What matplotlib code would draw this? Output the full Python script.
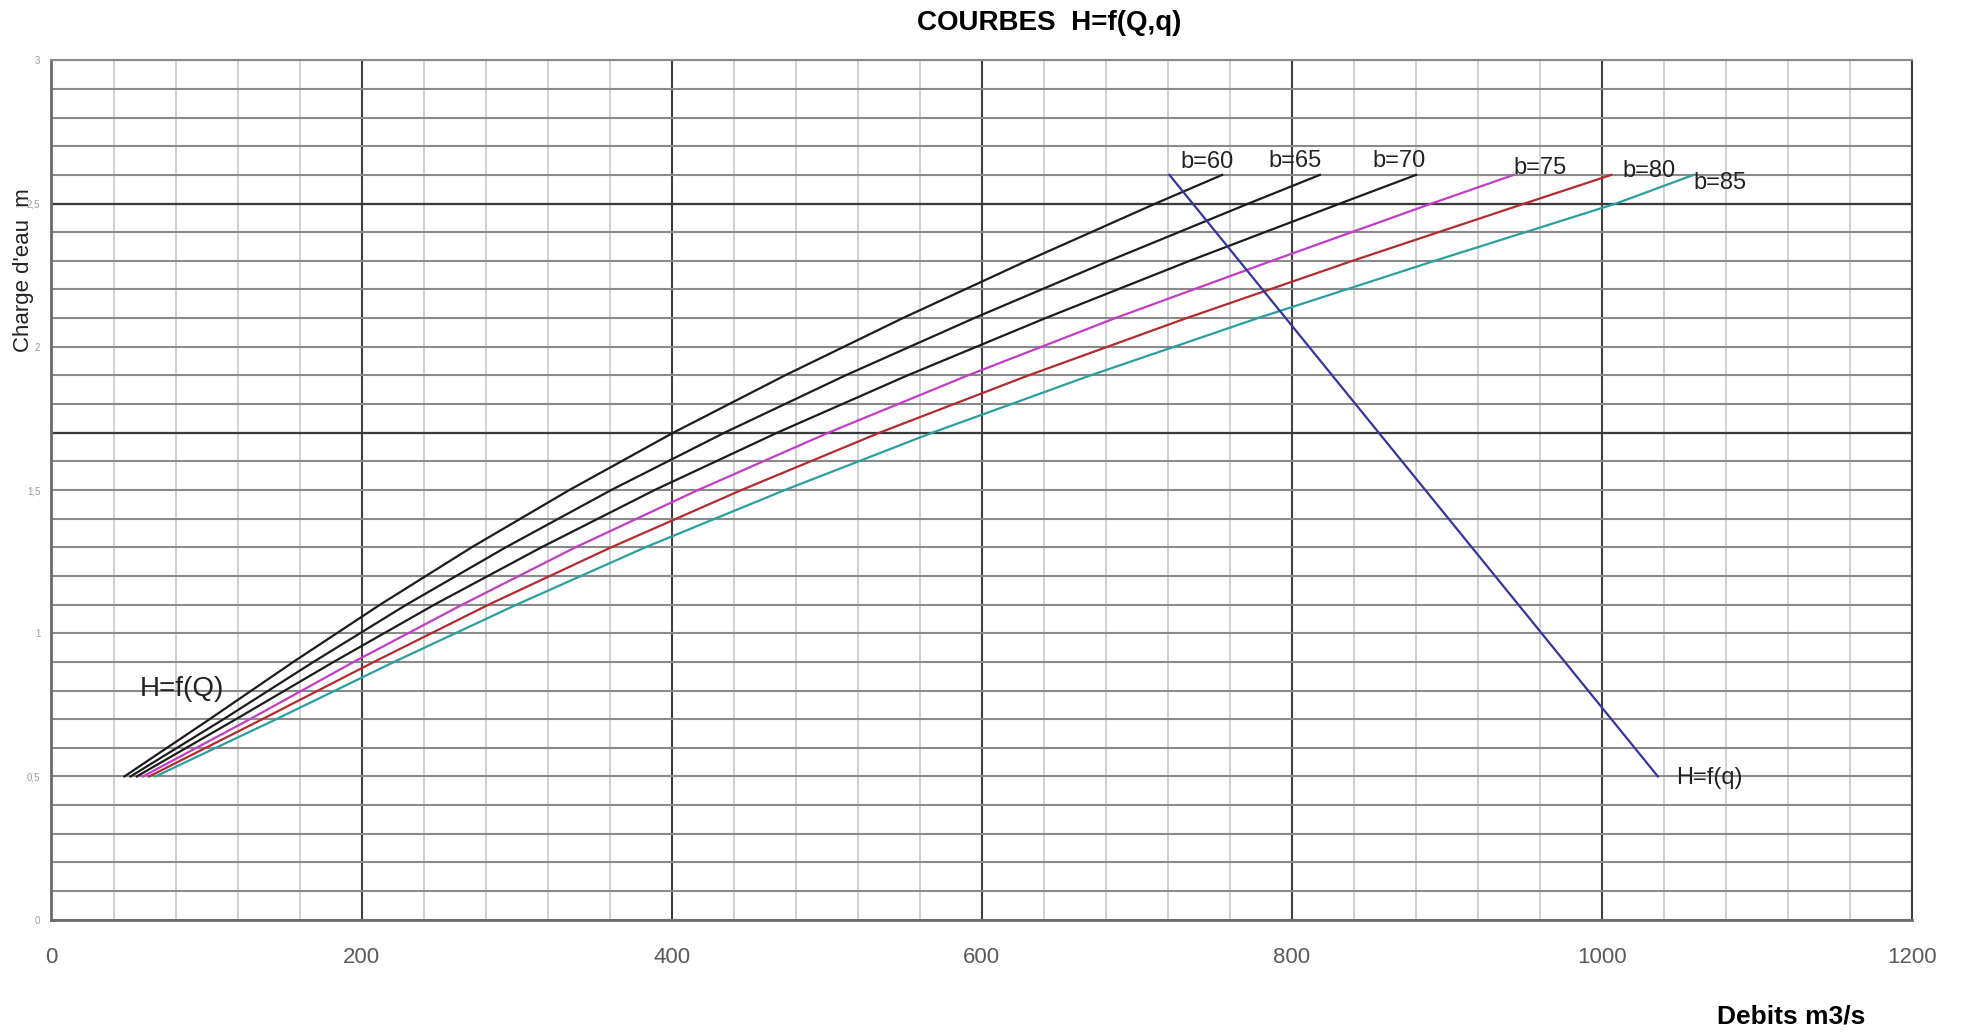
import matplotlib
matplotlib.use("Agg")
import matplotlib.pyplot as plt
from matplotlib.ticker import MultipleLocator, FixedLocator, FixedFormatter

plt.rcParams['font.family'] = ['Liberation Sans', 'DejaVu Sans']

# Charge d'eau H (m) aux points de calcul
H_pts = [0.5, 0.7, 0.9, 1.1, 1.3, 1.5, 1.7, 1.9, 2.1, 2.3, 2.5, 2.6]

# Debits Q (m3/s) pour chaque largeur b du deversoir
largeurs = [60, 65, 70, 75, 80, 85]
Q_b60 = [47, 102, 156, 212, 271, 334, 401, 473, 549, 629, 712, 755]
Q_b65 = [51, 111, 169, 229, 293, 361, 434, 512, 595, 682, 772, 818]
Q_b70 = [55, 119, 182, 247, 316, 389, 468, 552, 641, 734, 831, 880]
Q_b75 = [59, 128, 195, 265, 338, 417, 501, 591, 686, 787, 890, 943]
Q_b80 = [63, 136, 208, 282, 361, 445, 534, 630, 732, 839, 950, 1006]
Q_b85 = [67, 145, 221, 300, 383, 473, 568, 670, 778, 892, 1009, 1059]
couleurs = ['#1c1c1c', '#1c1c1c', '#1c1c1c', '#c23cc6', '#b32a30', '#2a9f9f']

# courbe H=f(q) du laminage
H_q = [2.6, 2.0, 1.5, 1.0, 0.5]
q_lam = [721, 811, 886, 961, 1036]

# position des etiquettes b=.. (Q, H)
etiq_Q = [728, 785, 852, 943, 1013, 1059]
etiq_H = [2.646, 2.65, 2.65, 2.624, 2.615, 2.571]

x_ticks = [0, 200, 400, 600, 800, 1000, 1200]
y_ticks = [0, 0.5, 1, 1.5, 2, 2.5, 3]
y_ticklabels = ['0', '0,5', '1', '1,5', '2', '2,5', '3']

fig = plt.figure(figsize=(19.7, 10.33), dpi=100)
ax = fig.add_axes([0.02614, 0.1097, 0.9445, 0.8319])

ax.set_xlim(0, 1200)
ax.set_ylim(0, 3)

# quadrillage
ax.xaxis.set_major_locator(FixedLocator(x_ticks))
ax.xaxis.set_minor_locator(MultipleLocator(40))
ax.yaxis.set_major_locator(FixedLocator(y_ticks))
ax.yaxis.set_minor_locator(MultipleLocator(0.1))
ax.yaxis.set_major_formatter(FixedFormatter(y_ticklabels))
ax.grid(which='minor', axis='x', color='#cfcfcf', lw=1.3)
ax.grid(which='major', axis='x', color='#404040', lw=1.5)
ax.grid(which='both', axis='y', color='#8a8a8a', lw=1.5)
for h in (1.7, 2.5):
    ax.axhline(h, color='#3a3a3a', lw=1.6, zorder=0.6)
ax.set_axisbelow(True)

Q_all = [Q_b60, Q_b65, Q_b70, Q_b75, Q_b80, Q_b85]
for b, Q, c, xq, yh in zip(largeurs, Q_all, couleurs, etiq_Q, etiq_H):
    ax.plot(Q, H_pts, color=c, lw=1.6)
    ax.text(xq, yh, 'b=%d' % b, fontsize=17, color='#222222',
            ha='left', va='center')

ax.plot(q_lam, H_q, color='#3434a4', lw=1.6)

ax.text(57, 0.805, 'H=f(Q)', fontsize=20, color='#222222', ha='left', va='center')
ax.text(1048, 0.494, 'H=f(q)', fontsize=17, color='#222222', ha='left', va='center')

ax.tick_params(axis='x', which='both', length=0, pad=20, labelsize=16,
               labelcolor='#5a5a5a')
ax.tick_params(axis='y', which='both', length=0, pad=8, labelsize=7,
               labelcolor='#9a9a9a')

for s in ('left', 'bottom'):
    ax.spines[s].set_color('#6a6a6a')
    ax.spines[s].set_linewidth(2)
ax.spines['top'].set_color('#8a8a8a')
ax.spines['top'].set_linewidth(1.5)
ax.spines['right'].set_color('#404040')
ax.spines['right'].set_linewidth(1.5)

fig.text(1049 / 1970, 1 - 22.5 / 1033, 'COURBES  H=f(Q,q)', fontsize=20,
         fontweight='bold', ha='center', va='center')
fig.text(1791 / 1970, 1 - 1016.7 / 1033, 'Debits m3/s', fontsize=19,
         fontweight='bold', ha='center', va='center')
fig.text(24 / 1970, 1 - 270 / 1033, "Charge d'eau  m", fontsize=16,
         rotation=90, ha='center', va='center', color='#222222')

fig.savefig('out.png', dpi=100)
